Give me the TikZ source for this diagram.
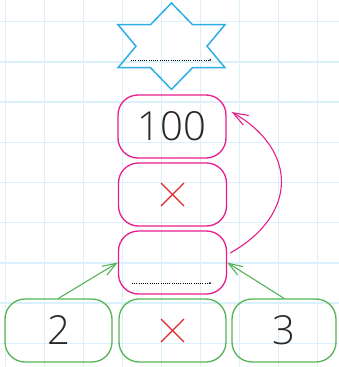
\documentclass[tikz,border=0pt]{standalone}
\usepackage{fontspec}
\setmainfont{Open Sans Light}
\usetikzlibrary{arrows.meta,calc}
\definecolor{gridc}{RGB}{218,240,252}
\definecolor{pinkc}{RGB}{232,30,140}
\definecolor{greenc}{RGB}{85,180,85}
\definecolor{starc}{RGB}{45,175,230}
\definecolor{crossc}{RGB}{222,40,40}
\definecolor{digitc}{RGB}{40,40,40}
\tikzset{
  box/.style={draw, rounded corners=20pt, line width=1.3pt, minimum height=63pt, inner sep=0pt,
    font=\fontsize{40}{40}\selectfont, text=digitc},
  pinkbox/.style={box, draw=pinkc, minimum width=108pt},
  greenbox/.style={box, draw=greenc, minimum width=107pt},
  crossline/.style={draw=crossc, line width=1.3pt},
  dotline/.style={line width=1pt, dash pattern=on 0.9pt off 1.3pt, black},
  garrow/.style={draw=greenc, line width=1.1pt, -{Straight Barb[length=14pt,width=10pt,line width=1.1pt]}},
  parrow/.style={draw=pinkc, line width=1.1pt, -{Straight Barb[length=15pt,width=11pt,line width=1.1pt]}},
}
\begin{document}
\begin{tikzpicture}[x=1pt,y=-1pt]
\useasboundingbox (0,0) rectangle (339,367);
\fill[white] (0,0) rectangle (339,367);
% grid
\foreach \k in {0,...,8} {
  \draw[gridc, line width=1.3pt] ({5.3+39.05*\k},0) -- ({5.3+39.05*\k},367);
  \draw[gridc, line width=1.3pt] (0,{21.7+40.2*\k}) -- (339,{21.7+40.2*\k});
}
% star
\draw[starc, line width=1.5pt, line join=miter]
  (171.5,3) -- (192.5,24.7) -- (225,24.7) -- (207,46.2) -- (225,67.7) -- (192.5,67.7)
  -- (171.5,89.4) -- (150.5,67.7) -- (118,67.7) -- (136,46.2) -- (118,24.7) -- (150.5,24.7) -- cycle;
\coordinate (s1) at (131,60);
\coordinate (s2) at (210,60);
\draw[dotline] (s1) -- (s2);
\fill (s2) circle (1pt);
% pink boxes
\node[pinkbox] (b1) at (172,126.5) {100};
\node[pinkbox] (b2) at (172.5,194.5) {};
\node[pinkbox] (b3) at (172.5,262.5) {};
\draw[crossline] ($(b2.center)+(-11.5,-11.5)$) -- ($(b2.center)+(11.5,11.5)$);
\draw[crossline] ($(b2.center)+(-11.5,11.5)$) -- ($(b2.center)+(11.5,-11.5)$);
\coordinate (d1) at (132,283);
\coordinate (d2) at (210,283);
\draw[dotline] (d1) -- (d2);
\fill (d2) circle (1pt);
% green boxes
\node[greenbox] (g1) at (58.5,330.5) {2};
\node[greenbox] (g2) at (172.5,330.5) {};
\node[greenbox, minimum width=104pt] (g3) at (284,330.5) {3};
\draw[crossline] ($(g2.center)+(-11.5,-11.5)$) -- ($(g2.center)+(11.5,11.5)$);
\draw[crossline] ($(g2.center)+(-11.5,11.5)$) -- ($(g2.center)+(11.5,-11.5)$);
% arrows
\draw[garrow] (g1.north) -- (b3.west);
\draw[garrow] (g3.north) -- (b3.east);
\draw[parrow] ($(b3.east)+(3,-9.5)$) .. controls (298,215) and (298,150) .. ($(b1.east)+(5,-14.5)$);
\end{tikzpicture}
\end{document}
